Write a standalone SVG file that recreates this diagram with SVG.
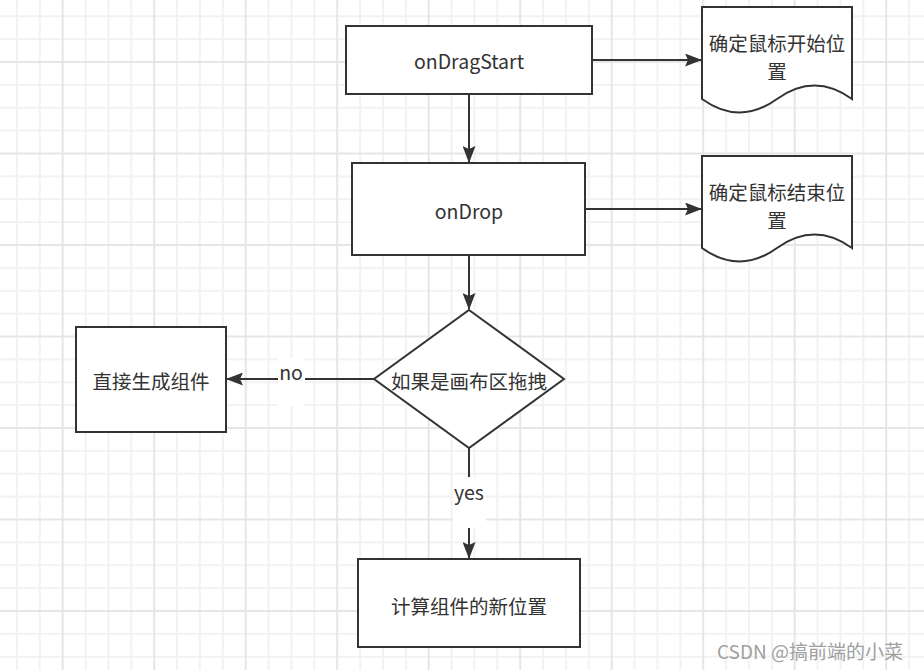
<svg xmlns="http://www.w3.org/2000/svg" width="924" height="670" viewBox="0 0 924 670">
<style>
.shape{fill:#ffffff;stroke:#333333;stroke-width:2}
.edge{fill:none;stroke:#333333;stroke-width:2}
.t{font-family:"Noto Sans CJK SC","Microsoft YaHei",sans-serif;font-size:19.5px;fill:#333333;text-anchor:middle;dominant-baseline:central}
.wm{font-family:"Noto Sans CJK SC",sans-serif;font-size:19px;fill:#a0a0a0;text-anchor:start}
</style>
<defs>
<pattern id="grid" patternUnits="userSpaceOnUse" x="-29.8" y="-30.5" width="91.5" height="91.5">
<rect x="22.875" y="0" width="2" height="91.5" fill="#f2f2f2"/>
<rect x="45.75" y="0" width="2" height="91.5" fill="#f2f2f2"/>
<rect x="68.625" y="0" width="2" height="91.5" fill="#f2f2f2"/>
<rect x="0" y="22.875" width="91.5" height="2" fill="#f2f2f2"/>
<rect x="0" y="45.75" width="91.5" height="2" fill="#f2f2f2"/>
<rect x="0" y="68.625" width="91.5" height="2" fill="#f2f2f2"/>
<rect x="0" y="0" width="2" height="91.5" fill="#e6e6e6"/>
<rect x="0" y="0" width="91.5" height="2" fill="#e6e6e6"/>
</pattern>
<marker id="arr" markerWidth="17" markerHeight="13" refX="16" refY="6.5" orient="auto" markerUnits="userSpaceOnUse">
<path d="M0,0 L17,6.5 L0,13 L3,6.5 Z" fill="#333333"/>
</marker>
</defs>
<rect x="0" y="0" width="924" height="670" fill="#ffffff"/>
<rect x="0" y="0" width="924" height="670" fill="url(#grid)"/>

<g id="connectors">
<line class="edge" x1="592" y1="60" x2="701" y2="60" marker-end="url(#arr)"/>
<line class="edge" x1="469" y1="94" x2="469" y2="162" marker-end="url(#arr)"/>
<line class="edge" x1="585" y1="209" x2="701" y2="209" marker-end="url(#arr)"/>
<line class="edge" x1="469" y1="255" x2="469" y2="309" marker-end="url(#arr)"/>
<line class="edge" x1="374" y1="379" x2="227" y2="379" marker-end="url(#arr)"/>
<line class="edge" x1="469" y1="448" x2="469" y2="558" marker-end="url(#arr)"/>
<g id="label-no">
<rect x="278" y="358" width="27" height="48" fill="#ffffff"/>
<text class="t" x="291" y="371">no</text>
</g>
<g id="label-yes">
<rect x="453" y="477" width="33" height="51" fill="#ffffff"/>
<text class="t" x="469" y="491">yes</text>
</g>
</g>

<g id="onDragStart">
<rect class="shape" x="346" y="26" width="246" height="68"/>
<text class="t" x="469" y="60">onDragStart</text>
</g>

<g id="doc-start">
<path class="shape" d="M702,7 H852 V99 Q814.5,72 777,99 Q739.5,126 702,99 Z"/>
<text class="t" x="777" y="42">确定鼠标开始位</text>
<text class="t" x="777" y="70">置</text>
</g>

<g id="onDrop">
<rect class="shape" x="352" y="163" width="233" height="92"/>
<text class="t" x="469" y="210">onDrop</text>
</g>

<g id="doc-end">
<path class="shape" d="M702,156 H852 V248 Q814.5,221 777,248 Q739.5,275 702,248 Z"/>
<text class="t" x="777" y="191">确定鼠标结束位</text>
<text class="t" x="777" y="219">置</text>
</g>

<g id="decision">
<path class="shape" d="M469,310 L564,379 L469,448 L374,379 Z"/>
<text class="t" x="469" y="380">如果是画布区拖拽</text>
</g>

<g id="direct">
<rect class="shape" x="76" y="327" width="150" height="105"/>
<text class="t" x="151" y="380">直接生成组件</text>
</g>

<g id="compute">
<rect class="shape" x="358" y="559" width="222" height="88"/>
<text class="t" x="469" y="605">计算组件的新位置</text>
</g>

<text class="wm" x="717" y="659">CSDN @搞前端的小菜</text>
</svg>
